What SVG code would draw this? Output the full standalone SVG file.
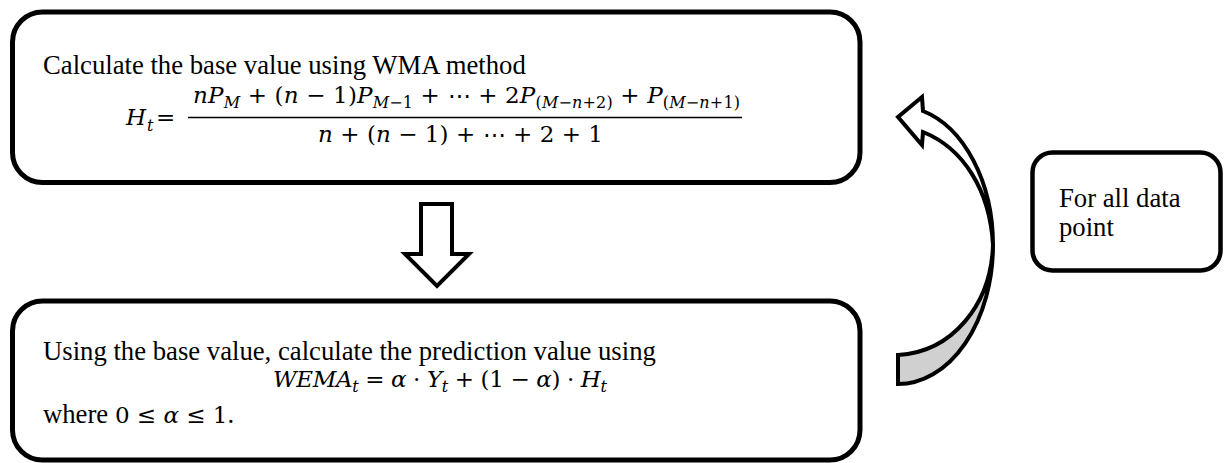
<svg xmlns="http://www.w3.org/2000/svg" width="1225" height="463" viewBox="0 0 1225 463">
<style>
.box{fill:#fff;stroke:#000;stroke-width:5}
.t{font-family:"Liberation Serif","Times New Roman",serif;font-size:26.7px;fill:#000}
.m{font-family:"DejaVu Serif","Liberation Serif",serif;font-size:23px;fill:#000}
.i{font-style:italic}
.s{font-size:16px}
</style>
<rect width="1225" height="463" fill="#fff"/>
<g id="node-wma">
<rect class="box" x="12.5" y="12" width="847.5" height="170.5" rx="30"/>
<text class="t" x="43" y="74">Calculate the base value using WMA method</text>
<text class="m" x="126" y="125"><tspan class="i">H</tspan><tspan class="s i" x="147" dy="6">t</tspan><tspan x="156" dy="-6">=</tspan></text>
<text class="m" x="193" y="103" textLength="547" lengthAdjust="spacing"><tspan class="i">nP</tspan><tspan class="s i" dy="5">M</tspan><tspan dy="-5"> + (</tspan><tspan class="i">n</tspan><tspan> − 1)</tspan><tspan class="i">P</tspan><tspan class="s" dy="5"><tspan class="i">M</tspan>−1</tspan><tspan dy="-5"> + ⋯ + 2</tspan><tspan class="i">P</tspan><tspan class="s" dy="5">(<tspan class="i">M</tspan>−<tspan class="i">n</tspan>+2)</tspan><tspan dy="-5"> + </tspan><tspan class="i">P</tspan><tspan class="s" dy="5">(<tspan class="i">M</tspan>−<tspan class="i">n</tspan>+1)</tspan></text>
<line x1="188" y1="117.5" x2="742" y2="117.5" stroke="#000" stroke-width="1.7"/>
<text class="m" x="318" y="142" textLength="285" lengthAdjust="spacing"><tspan class="i">n</tspan> + (<tspan class="i">n</tspan> − 1) + ⋯ + 2 + 1</text>
</g>
<g id="node-wema">
<rect class="box" x="12.5" y="301" width="847.5" height="159" rx="30"/>
<text class="t" x="43" y="360">Using the base value, calculate the prediction value using</text>
<text class="m" x="273" y="387" textLength="334" lengthAdjust="spacing"><tspan class="i">WEMA</tspan><tspan class="s i" dy="5">t</tspan><tspan dy="-5"> = </tspan><tspan class="i">α</tspan> · <tspan class="i">Y</tspan><tspan class="s i" dy="5">t</tspan><tspan dy="-5"> + (1 − </tspan><tspan class="i">α</tspan>) · <tspan class="i">H</tspan><tspan class="s i" dy="5">t</tspan></text>
<text class="t" x="43" y="423">where <tspan class="m">0 ≤ <tspan class="i">α</tspan> ≤ 1</tspan>.</text>
</g>
<g id="node-loop">
<rect x="1032.5" y="152.5" width="188" height="118" rx="20" fill="#fff" stroke="#000" stroke-width="4.5"/>
<text class="t" x="1059" y="207">For all data</text>
<text class="t" x="1059" y="236">point</text>
</g>
<g id="connectors" stroke="#000" stroke-linejoin="miter">
<polygon points="421,204 452,204 452,254 469,254 437,286 405,254 421,254" fill="#fff" stroke-width="4"/>
<path d="M898,384 A95 139 0 0 0 993,245 C991,305 952,352 898,355 Z" fill="#d0d0d0" stroke-width="4"/>
<path d="M923,111 A95 139 0 0 1 993,245 C990,190 963,148 923,132 L922,145 L898,117 L922,97 Z" fill="#fff" stroke-width="4"/>
</g>
</svg>
